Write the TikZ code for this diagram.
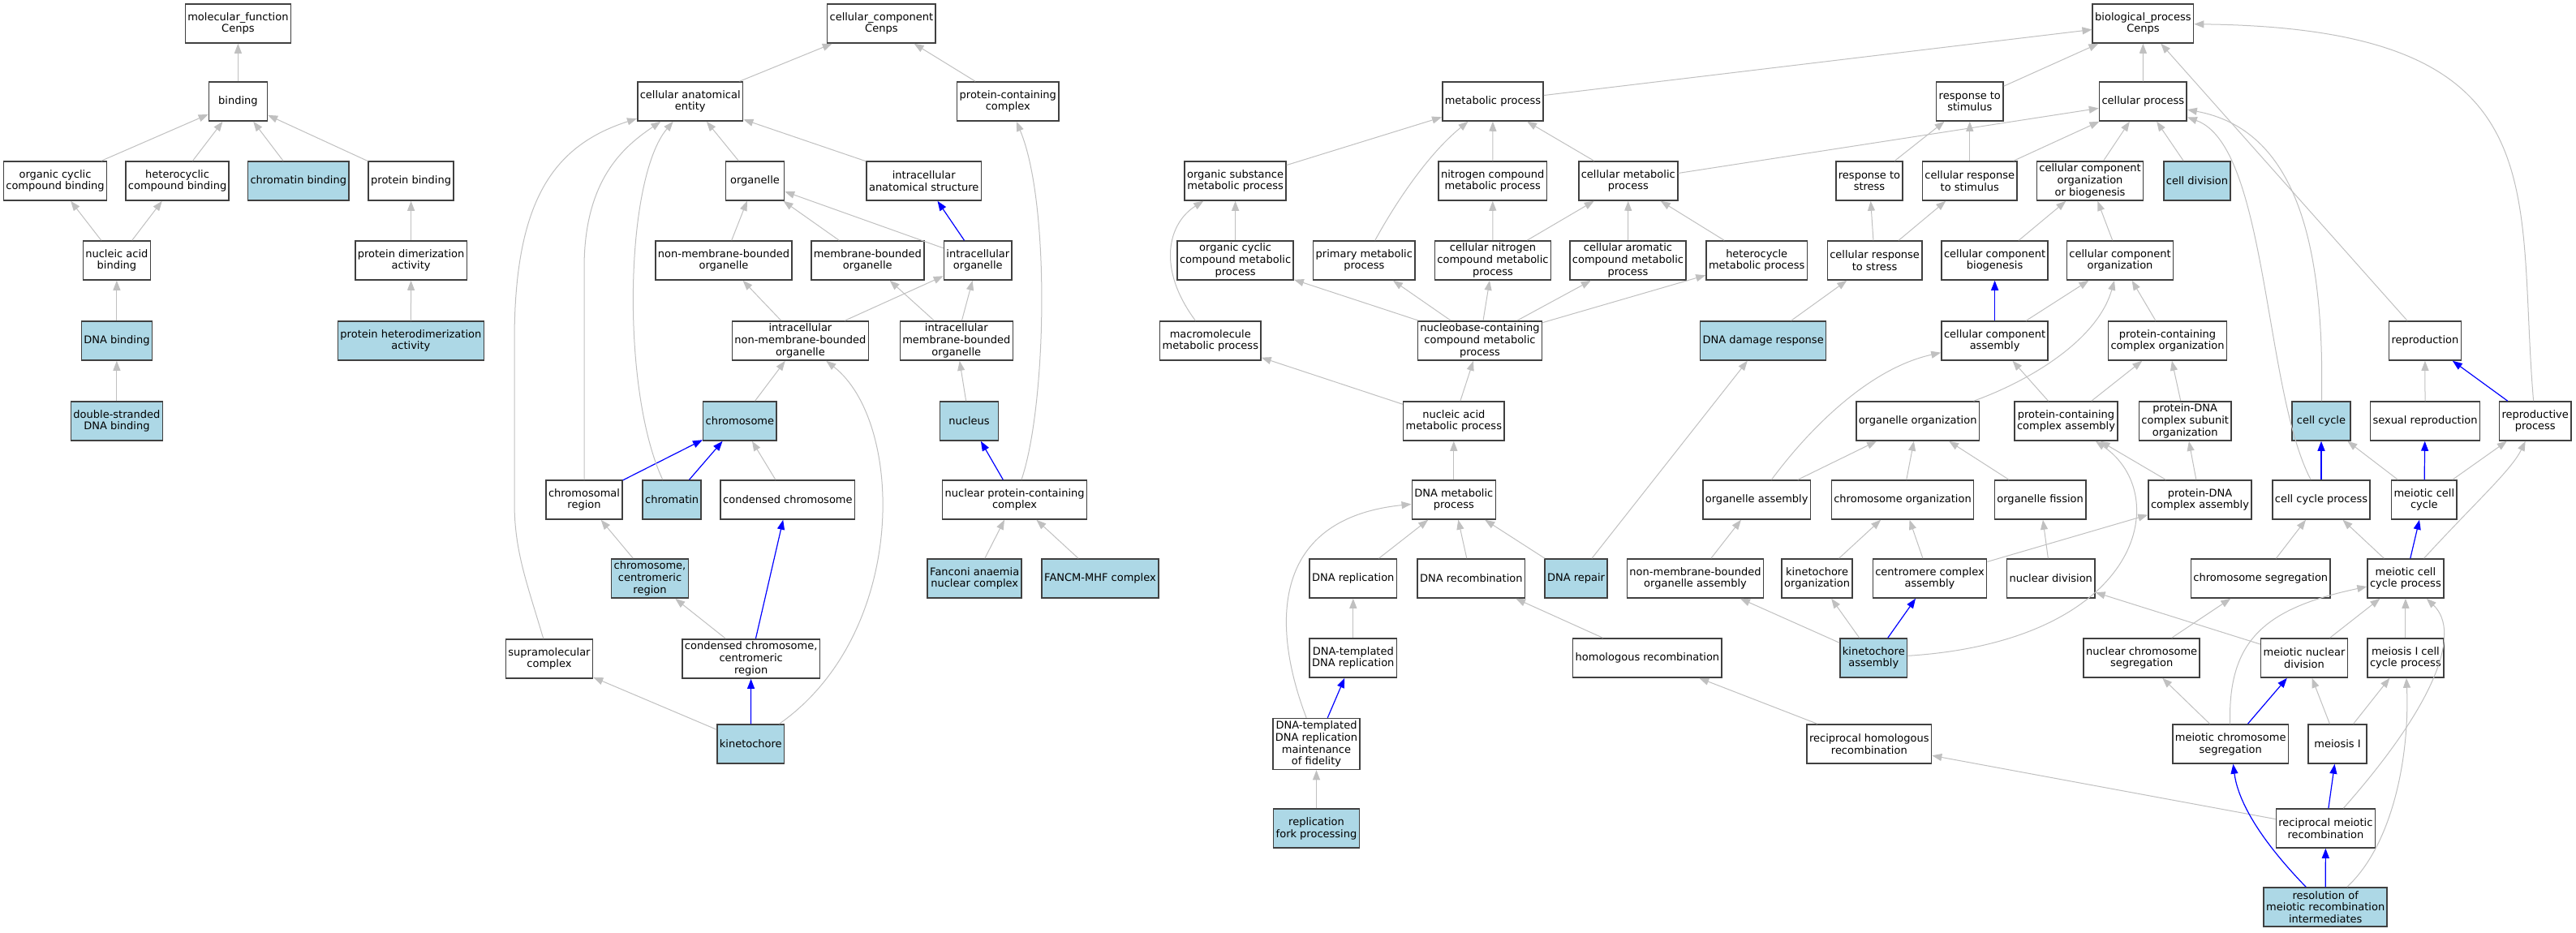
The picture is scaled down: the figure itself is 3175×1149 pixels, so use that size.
\documentclass[tikz,border=0pt]{standalone}
\usepackage{fontspec}
\setmainfont{DejaVu Sans}
\usetikzlibrary{arrows.meta}
\definecolor{termblue}{HTML}{ADD8E6}
\definecolor{edgegray}{HTML}{C0C0C0}

\begin{document}
\begin{tikzpicture}
  [x=1pt,y=-1pt,
   goN/.style={draw=black!75,line width=1.5pt,fill=white,align=center,
     minimum width=72pt,minimum height=48pt,inner xsep=3pt,inner ysep=3pt,
     font=\fontsize{13}{14.8}\selectfont},
   hitN/.style={goN,fill=termblue},
   isA/.style={draw=edgegray,line width=1pt,-{Triangle[length=12pt,width=9pt]}},
   partOf/.style={draw=blue,line width=1.2pt,-{Triangle[length=12pt,width=9pt]}},
  ]
 \useasboundingbox (0,0) rectangle (3175,1149);

 % molecular function
 \node[goN]  (mf)    at (293.4,29)  {molecular\_function\\Cenps};
 \node[goN]  (bind)  at (293.4,125) {binding};
 \node[goN]  (occb)  at (68,223)    {organic cyclic\\compound binding};
 \node[goN]  (hcb)   at (218.6,223) {heterocyclic\\compound binding};
 \node[hitN] (chb)   at (367.8,223) {chromatin binding};
 \node[goN]  (pb)    at (506.6,223) {protein binding};
 \node[goN]  (nab)   at (143.9,321) {nucleic acid\\binding};
 \node[goN]  (pda)   at (506.6,321) {protein dimerization\\activity};
 \node[hitN] (dnab)  at (143.9,420) {DNA binding};
 \node[hitN] (phda)  at (506.4,420) {protein heterodimerization\\activity};
 \node[hitN] (dsdna) at (143.9,519) {double-stranded\\DNA binding};

 \draw[isA] (bind)  to (mf);
 \draw[isA] (occb)  to (bind);
 \draw[isA] (hcb)   to (bind);
 \draw[isA] (chb)   to (bind);
 \draw[isA] (pb)    to (bind);
 \draw[isA] (nab)   to (occb);
 \draw[isA] (nab)   to (hcb);
 \draw[isA] (pda)   to (pb);
 \draw[isA] (dnab)  to (nab);
 \draw[isA] (phda)  to (pda);
 \draw[isA] (dsdna) to (dnab);

 % cellular component
 \node[goN]  (cc)     at (1086.4,29)  {cellular\_component\\Cenps};
 \node[goN]  (cae)    at (850.7,125)  {cellular anatomical\\entity};
 \node[goN]  (pcc)    at (1242.3,125) {protein-containing\\complex};
 \node[goN]  (org)    at (930.5,223)  {organelle};
 \node[goN]  (ias)    at (1138.7,223) {intracellular\\anatomical structure};
 \node[goN]  (nmbo)   at (892,321)    {non-membrane-bounded\\organelle};
 \node[goN]  (mbo)    at (1069.3,321) {membrane-bounded\\organelle};
 \node[goN]  (io)     at (1205.3,321) {intracellular\\organelle};
 \node[goN]  (inmbo)  at (986.4,420)  {intracellular\\non-membrane-bounded\\organelle};
 \node[goN]  (imbo)   at (1178.8,420) {intracellular\\membrane-bounded\\organelle};
 \node[hitN] (chrom)  at (911.9,519)  {chromosome};
 \node[hitN] (nuc)    at (1194.6,519) {nucleus};
 \node[goN]  (chreg)  at (720,616)    {chromosomal\\region};
 \node[hitN] (chtin)  at (828.2,616)  {chromatin};
 \node[goN]  (cchrom) at (970.9,616)  {condensed chromosome};
 \node[goN]  (npcc)   at (1250.6,616) {nuclear protein-containing\\complex};
 \node[hitN] (ccr)    at (801,713)    {chromosome,\\centromeric\\region};
 \node[hitN] (fanc)   at (1201.2,713) {Fanconi anaemia\\nuclear complex};
 \node[hitN] (fancm)  at (1356,713)   {FANCM-MHF complex};
 \node[goN]  (supra)  at (677,812)    {supramolecular\\complex};
 \node[goN]  (cccr)   at (925.7,812)  {condensed chromosome,\\centromeric\\region};
 \node[hitN] (kin)    at (925.3,917)  {kinetochore};

 \draw[isA]    (cae)    to (cc);
 \draw[isA]    (pcc)    to (cc);
 \draw[isA]    (org)    to (cae);
 \draw[isA]    (ias)    to (cae);
 \draw[isA]    (nmbo)   to (org);
 \draw[isA]    (mbo)    to (org);
 \draw[isA]    (io)     to (org);
 \draw[partOf] (io)     to (ias);
 \draw[isA]    (inmbo)  to (nmbo);
 \draw[isA]    (inmbo)  to (io);
 \draw[isA]    (imbo)   to (mbo);
 \draw[isA]    (imbo)   to (io);
 \draw[isA]    (chrom)  to (inmbo);
 \draw[isA]    (nuc)    to (imbo);
 \draw[partOf] (chreg)  to (chrom);
 \draw[partOf] (chtin)  to (chrom);
 \draw[isA]    (cchrom) to (chrom);
 \draw[partOf] (npcc)   to (nuc);
 \draw[isA]    (ccr)    to (chreg);
 \draw[isA]    (cccr)   to (ccr);
 \draw[partOf] (cccr)   to (cchrom);
 \draw[partOf] (kin)    to (cccr);
 \draw[isA]    (kin)    to (supra);
 \draw[isA]    (fanc)   to (npcc);
 \draw[isA]    (fancm)  to (npcc);
 \draw[isA] (chreg) -- (720,330) .. controls (720,220) and (770,180) .. (cae);
 \draw[isA] (chtin) .. controls (765,480) and (770,220) .. (cae);
 \draw[isA] (supra) .. controls (650,720) and (634,680) .. (634,620)
   -- (634,420) .. controls (634,250) and (680,180) .. (cae);
 \draw[isA] (kin)  .. controls (1120,780) and (1115,520) .. (inmbo);
 \draw[isA] (npcc) .. controls (1290,500) and (1295,250) .. (pcc);

 % biological process
 \node[goN]  (bp)       at (2641.4,29)   {biological\_process\\Cenps};
 \node[goN]  (mp)       at (1840,125)    {metabolic process};
 \node[goN]  (rts)      at (2427.8,125)  {response to\\stimulus};
 \node[goN]  (cp)       at (2641.3,125)  {cellular process};
 \node[goN]  (osmp)     at (1522.6,223)  {organic substance\\metabolic process};
 \node[goN]  (ncmp)     at (1839.7,223)  {nitrogen compound\\metabolic process};
 \node[goN]  (cmp)      at (2006.8,223)  {cellular metabolic\\process};
 \node[goN]  (rtstress) at (2304,223)    {response to\\stress};
 \node[goN]  (crts)     at (2427.8,223)  {cellular response\\to stimulus};
 \node[goN]  (ccob)     at (2576,223)    {cellular component\\organization\\or biogenesis};
 \node[hitN] (celldiv)  at (2708,223)    {cell division};
 \node[goN]  (occmp)    at (1522.6,321)  {organic cyclic\\compound metabolic\\process};
 \node[goN]  (pmp)      at (1681.3,321)  {primary metabolic\\process};
 \node[goN]  (cncmp)    at (1840,321)    {cellular nitrogen\\compound metabolic\\process};
 \node[goN]  (cacmp)    at (2006.5,321)  {cellular aromatic\\compound metabolic\\process};
 \node[goN]  (hmp)      at (2165.2,321)  {heterocycle\\metabolic process};
 \node[goN]  (crstress) at (2310.6,321)  {cellular response\\to stress};
 \node[goN]  (ccb)      at (2458.6,321)  {cellular component\\biogenesis};
 \node[goN]  (cco)      at (2613,321)    {cellular component\\organization};
 \node[goN]  (mmp)      at (1491.8,420)  {macromolecule\\metabolic process};
 \node[goN]  (nbccmp)   at (1824,420)    {nucleobase-containing\\compound metabolic\\process};
 \node[hitN] (ddr)      at (2173.2,420)  {DNA damage response};
 \node[goN]  (cca)      at (2458.6,420)  {cellular component\\assembly};
 \node[goN]  (pcco)     at (2671.5,420)  {protein-containing\\complex organization};
 \node[goN]  (repro)    at (2988.9,420)  {reproduction};
 \node[goN]  (namp)     at (1791.8,519)  {nucleic acid\\metabolic process};
 \node[goN]  (orgorg)   at (2363.6,519)  {organelle organization};
 \node[goN]  (pcca)     at (2546.5,519)  {protein-containing\\complex assembly};
 \node[goN]  (pdcso)    at (2693.2,519)  {protein-DNA\\complex subunit\\organization};
 \node[hitN] (ccyc)     at (2861,519)    {cell cycle};
 \node[goN]  (sexrep)   at (2989,519)    {sexual reproduction};
 \node[goN]  (reprop)   at (3124.7,519)  {reproductive\\process};
 \node[goN]  (dnamp)    at (1791.8,616)  {DNA metabolic\\process};
 \node[goN]  (orgasm)   at (2165.2,616)  {organelle assembly};
 \node[goN]  (chrorg)   at (2345,616)    {chromosome organization};
 \node[goN]  (orgfis)   at (2514.6,616)  {organelle fission};
 \node[goN]  (pdca)     at (2711.5,616)  {protein-DNA\\complex assembly};
 \node[goN]  (ccp)      at (2861,616)    {cell cycle process};
 \node[goN]  (mcc)      at (2987.8,616)  {meiotic cell\\cycle};
 \node[goN]  (dnarep)   at (1667.8,713)  {DNA replication};
 \node[goN]  (dnarec)   at (1813.3,713)  {DNA recombination};
 \node[hitN] (repair)   at (1942.5,713)  {DNA repair};
 \node[goN]  (nmboa)    at (2089.5,713)  {non-membrane-bounded\\organelle assembly};
 \node[goN]  (kinorg)   at (2239.6,713)  {kinetochore\\organization};
 \node[goN]  (centasm)  at (2378.5,713)  {centromere complex\\assembly};
 \node[goN]  (nucdiv)   at (2527.7,713)  {nuclear division};
 \node[goN]  (chrseg)   at (2786.3,713)  {chromosome segregation};
 \node[goN]  (mccp)     at (2964.9,713)  {meiotic cell\\cycle process};
 \node[goN]  (dtdr)     at (1667.8,811)  {DNA-templated\\DNA replication};
 \node[goN]  (homrec)   at (2030.4,811)  {homologous recombination};
 \node[hitN] (kinasm)   at (2309.3,811)  {kinetochore\\assembly};
 \node[goN]  (ncs)      at (2639.6,811)  {nuclear chromosome\\segregation};
 \node[goN]  (mnd)      at (2840,811)    {meiotic nuclear\\division};
 \node[goN]  (micp)     at (2964.9,811)  {meiosis I cell\\cycle process};
 \node[goN]  (dtmf)     at (1622.5,917)  {DNA-templated\\DNA replication\\maintenance\\of fidelity};
 \node[goN]  (rhr)      at (2303.8,917)  {reciprocal homologous\\recombination};
 \node[goN]  (mcs)      at (2749.2,917)  {meiotic chromosome\\segregation};
 \node[goN]  (mei)      at (2881,917)    {meiosis I};
 \node[hitN] (rfp)      at (1622.5,1021) {replication\\fork processing};
 \node[goN]  (rmr)      at (2866.4,1021) {reciprocal meiotic\\recombination};
 \node[hitN] (res)      at (2866.2,1118) {resolution of\\meiotic recombination\\intermediates};

 \draw[isA]    (mp)       to (bp);
 \draw[isA]    (rts)      to (bp);
 \draw[isA]    (cp)       to (bp);
 \draw[isA]    (repro)    to (bp);
 \draw[isA]    (osmp)     to (mp);
 \draw[isA]    (ncmp)     to (mp);
 \draw[isA]    (cmp)      to (mp);
 \draw[isA]    (cmp)      to (cp);
 \draw[isA]    (rtstress) to (rts);
 \draw[isA]    (crts)     to (rts);
 \draw[isA]    (crts)     to (cp);
 \draw[isA]    (ccob)     to (cp);
 \draw[isA]    (celldiv)  to (cp);
 \draw[isA]    (occmp)    to (osmp);
 \draw[isA]    (cncmp)    to (ncmp);
 \draw[isA]    (cncmp)    to (cmp);
 \draw[isA]    (cacmp)    to (cmp);
 \draw[isA]    (hmp)      to (cmp);
 \draw[isA]    (nbccmp)   to (occmp);
 \draw[isA]    (nbccmp)   to (pmp);
 \draw[isA]    (nbccmp)   to (cncmp);
 \draw[isA]    (nbccmp)   to (cacmp);
 \draw[isA]    (nbccmp)   to (hmp);
 \draw[isA]    (namp)     to (mmp);
 \draw[isA]    (namp)     to (nbccmp);
 \draw[isA]    (dnamp)    to (namp);
 \draw[isA]    (crstress) to (rtstress);
 \draw[isA]    (crstress) to (crts);
 \draw[isA]    (ddr)      to (crstress);
 \draw[isA]    (repair)   to (ddr);
 \draw[isA]    (repair)   to (dnamp);
 \draw[isA]    (dnarep)   to (dnamp);
 \draw[isA]    (dnarec)   to (dnamp);
 \draw[isA]    (dtdr)     to (dnarep);
 \draw[partOf] (dtmf)     to (dtdr);
 \draw[isA]    (rfp)      to (dtmf);
 \draw[isA]    (homrec)   to (dnarec);
 \draw[isA]    (rhr)      to (homrec);
 \draw[isA]    (rmr)      to (rhr);
 \draw[isA]    (ccb)      to (ccob);
 \draw[isA]    (cco)      to (ccob);
 \draw[partOf] (cca)      to (ccb);
 \draw[isA]    (cca)      to (cco);
 \draw[isA]    (pcco)     to (cco);
 \draw[isA]    (pcca)     to (cca);
 \draw[isA]    (pcca)     to (pcco);
 \draw[isA]    (pdcso)    to (pcco);
 \draw[isA]    (orgasm)   to (orgorg);
 \draw[isA]    (chrorg)   to (orgorg);
 \draw[isA]    (orgfis)   to (orgorg);
 \draw[isA]    (pdca)     to (pcca);
 \draw[isA]    (pdca)     to (pdcso);
 \draw[isA]    (sexrep)   to (repro);
 \draw[partOf] (reprop)   to (repro);
 \draw[partOf] (ccp)      to (ccyc);
 \draw[isA]    (mcc)      to (ccyc);
 \draw[partOf] (mcc)      to (sexrep);
 \draw[isA]    (mcc)      to (reprop);
 \draw[isA]    (nmboa)    to (orgasm);
 \draw[isA]    (kinasm)   to (nmboa);
 \draw[isA]    (kinasm)   to (kinorg);
 \draw[partOf] (kinasm)   to (centasm);
 \draw[isA]    (kinorg)   to (chrorg);
 \draw[isA]    (centasm)  to (chrorg);
 \draw[isA]    (centasm)  to (pdca);
 \draw[isA]    (nucdiv)   to (orgfis);
 \draw[isA]    (chrseg)   to (ccp);
 \draw[isA]    (mccp)     to (ccp);
 \draw[partOf] (mccp)     to (mcc);
 \draw[isA]    (ncs)      to (chrseg);
 \draw[isA]    (mnd)      to (nucdiv);
 \draw[isA]    (mnd)      to (mccp);
 \draw[isA]    (micp)     to (mccp);
 \draw[isA]    (mcs)      to (ncs);
 \draw[partOf] (mcs)      to (mnd);
 \draw[isA]    (mei)      to (mnd);
 \draw[isA]    (mei)      to (micp);
 \draw[partOf] (rmr)      to (mei);
 \draw[partOf] (res)      to (rmr);
 \draw[isA]    (pmp)    .. controls (1720,250) and (1760,190) .. (mp);
 \draw[isA]    (mmp)    .. controls (1425,330) and (1440,275) .. (osmp);
 \draw[isA]    (dtmf)   .. controls (1570,780) and (1560,640) .. (dnamp);
 \draw[isA]    (ccp)    .. controls (2790,480) and (2795,180) .. (cp);
 \draw[isA]    (ccyc)   .. controls (2865,300) and (2830,160) .. (cp);
 \draw[isA]    (reprop) .. controls (3100,230) and (3160,35)  .. (bp);
 \draw[isA]    (mccp)   .. controls (3050,620) and (3095,580) .. (reprop);
 \draw[isA]    (kinasm) .. controls (2640,790) and (2680,610) .. (pcca);
 \draw[isA]    (orgasm) .. controls (2225,535) and (2300,455) .. (cca);
 \draw[isA]    (orgorg) .. controls (2500,470) and (2585,420) .. (cco);
 \draw[isA]    (res)    .. controls (2950,1040) and (2970,930) .. (micp);
 \draw[isA]    (rmr)    .. controls (3000,870) and (3035,780) .. (mccp);
 \draw[isA]    (mcs)    .. controls (2746,790) and (2790,750) .. (mccp);
 \draw[partOf] (res)    .. controls (2805,1055) and (2760,1000) .. (mcs);

\end{tikzpicture}
\end{document}
